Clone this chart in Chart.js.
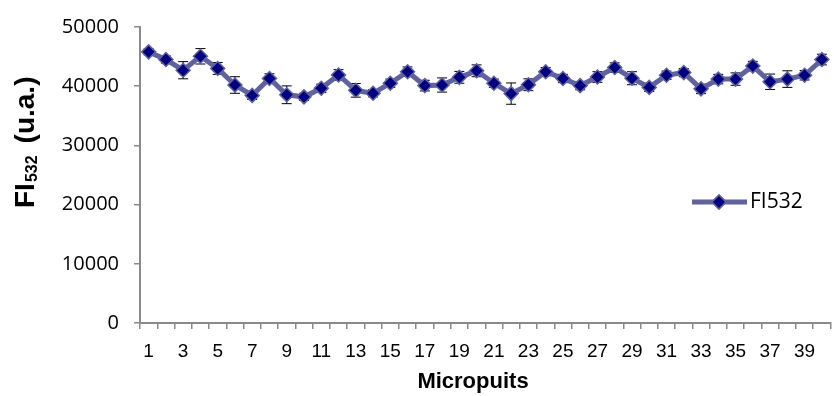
<!DOCTYPE html>
<html>
<head>
<meta charset="utf-8">
<script src="https://cdn.jsdelivr.net/npm/chart.js@4"></script>
<style>
  html, body { margin: 0; padding: 0; background: #fff; overflow: hidden; }
  #wrap { width: 839px; height: 396px; }
</style>
</head>
<body>
<div id="wrap"><canvas id="myChart"></canvas></div>
<script>
const labels = ['1', '2', '3', '4', '5', '6', '7', '8', '9', '10',
    '11', '12', '13', '14', '15', '16', '17', '18', '19', '20',
    '21', '22', '23', '24', '25', '26', '27', '28', '29', '30',
    '31', '32', '33', '34', '35', '36', '37', '38', '39', '40'];

const fi532 = [45800, 44500, 42700, 45050, 43000, 40200, 38450, 41300, 38550, 38200,
    39650, 41900, 39300, 38800, 40500, 42450, 40100, 40200, 41500, 42600,
    40500, 38750, 40250, 42450, 41300, 40100, 41550, 43150, 41350, 39800,
    41850, 42300, 39550, 41200, 41200, 43400, 40750, 41200, 41850, 44500];

// +/- error on each well
const fi532Err = [500, 600, 1450, 1300, 1000, 1400, 700, 800, 1500, 600,
    700, 900, 1150, 600, 700, 800, 900, 1200, 1000, 1000,
    700, 1800, 1000, 700, 700, 700, 900, 800, 1100, 700,
    700, 700, 800, 800, 1050, 800, 1300, 1400, 800, 900];

const yTicks = [0, 10000, 20000, 30000, 40000, 50000];

const lineColor = 'rgb(96, 98, 158)';
const markColor = '#000080';

// error bars, drawn under the markers
const errorBars = {
    id: 'errorBars',
    beforeDatasetsDraw(chart) {
        const ctx = chart.ctx;
        const x = chart.scales.x, y = chart.scales.y;
        ctx.save();
        ctx.beginPath();
        ctx.rect(chart.chartArea.left, 0, chart.chartArea.width, chart.height);
        ctx.clip();
        ctx.strokeStyle = '#000';
        ctx.lineWidth = 1;
        fi532.forEach((v, i) => {
            const px = x.getPixelForValue(i);
            const top = y.getPixelForValue(v + fi532Err[i]);
            const bot = y.getPixelForValue(v - fi532Err[i]);
            ctx.beginPath();
            ctx.moveTo(px, top); ctx.lineTo(px, bot);
            ctx.moveTo(px - 5, top); ctx.lineTo(px + 5, top);
            ctx.moveTo(px - 5, bot); ctx.lineTo(px + 5, bot);
            ctx.stroke();
        });
        ctx.restore();
    }
};

// axis titles (with subscript) and the legend inside the plot
const extras = {
    id: 'extras',
    afterDraw(chart) {
        const ctx = chart.ctx;
        ctx.save();
        ctx.fillStyle = '#000';
        ctx.textBaseline = 'middle';
        ctx.textAlign = 'left';

        // y title: FI532 (u.a.)
        ctx.save();
        ctx.translate(26, 208);
        ctx.rotate(-Math.PI / 2);
        ctx.font = 'bold 28px "Liberation Sans", Arial, sans-serif';
        ctx.fillText('FI', 0, 0);
        let w = ctx.measureText('FI').width + 1;
        ctx.font = 'bold 16px "Liberation Sans", Arial, sans-serif';
        ctx.fillText('532', w, 7);
        w += ctx.measureText('532').width + 12;
        ctx.font = 'bold 28px "Liberation Sans", Arial, sans-serif';
        ctx.fillText('(u.a.)', w, 0);
        ctx.restore();

        // x title
        ctx.font = 'bold 22px "Liberation Sans", Arial, sans-serif';
        ctx.textAlign = 'center';
        ctx.fillText('Micropuits', 473, 382);

        // legend
        const ly = 202;
        ctx.strokeStyle = lineColor;
        ctx.lineWidth = 5;
        ctx.beginPath();
        ctx.moveTo(692, ly); ctx.lineTo(747, ly);
        ctx.stroke();
        ctx.fillStyle = markColor;
        ctx.lineWidth = 1.5;
        Chart.helpers.drawPoint(ctx, { pointStyle: 'rectRot', radius: 7, rotation: 0, borderWidth: 1.5 }, 719, ly);
        ctx.fill();
        ctx.stroke();
        ctx.fillStyle = '#000';
        ctx.textAlign = 'left';
        ctx.font = '21px "Open Sans", sans-serif';
        ctx.fillText('FI532', 750, ly);
        ctx.restore();
    }
};

new Chart(document.getElementById('myChart'), {
    type: 'line',
    data: {
        labels: labels,
        datasets: [{
            label: 'FI532',
            data: fi532,
            borderColor: lineColor,
            borderWidth: 5,
            tension: 0,
            pointStyle: 'rectRot',
            pointRadius: 7,
            pointHoverRadius: 7,
            pointBackgroundColor: markColor,
            pointBorderColor: lineColor,
            pointBorderWidth: 1.5,
        }]
    },
    options: {
        responsive: true,
        maintainAspectRatio: false,
        animation: false,
        layout: { padding: { top: 20, left: 0, right: 0, bottom: 0 } },
        plugins: {
            legend: { display: false },
            tooltip: { enabled: false },
        },
        scales: {
            x: {
                offset: true,
                afterFit: (s) => { s.height = 73; },
                border: { color: '#8a8a8a', width: 2 },
                grid: {
                    offset: true,
                    drawOnChartArea: false,
                    drawTicks: true,
                    tickLength: 6,
                    color: '#8a8a8a',
                    lineWidth: 1.5,
                },
                ticks: {
                    autoSkip: false,
                    maxRotation: 0,
                    padding: 11,
                    color: '#000',
                    font: { family: '"Liberation Sans", Arial, sans-serif', size: 19 },
                    callback: function (value, index) {
                        return index % 2 === 0 ? labels[index] : '';
                    }
                }
            },
            y: {
                min: yTicks[0],
                max: yTicks[yTicks.length - 1],
                afterFit: (s) => { s.width = 140; },
                afterBuildTicks: (s) => { s.ticks = yTicks.map(v => ({ value: v })); },
                border: { color: '#8a8a8a', width: 2 },
                grid: {
                    drawOnChartArea: false,
                    drawTicks: true,
                    tickLength: 6,
                    color: '#8a8a8a',
                    lineWidth: 1.5,
                },
                ticks: {
                    padding: 15,
                    color: '#000',
                    font: { family: '"Open Sans", sans-serif', size: 20 },
                    callback: (v) => String(v)
                }
            }
        }
    },
    plugins: [errorBars, extras]
});
</script>
</body>
</html>
